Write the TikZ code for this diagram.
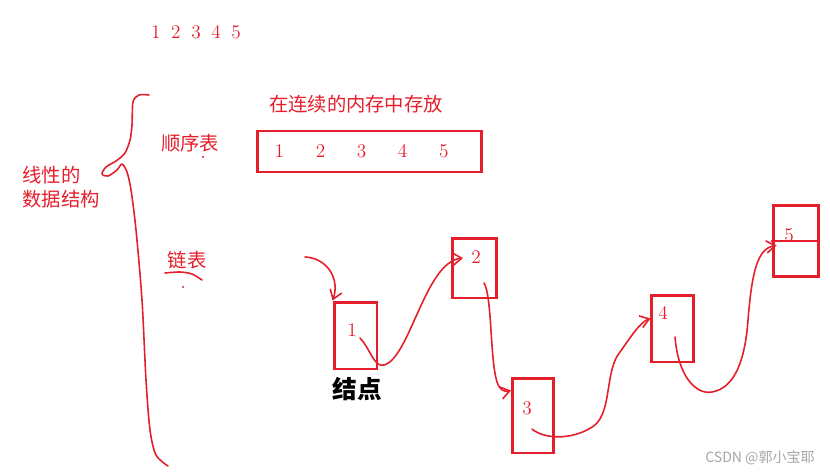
\documentclass[tikz,border=0pt]{standalone}
\usepackage{fontspec}
\newfontfamily\cjk{Noto Sans CJK SC}
\usepackage{tikz}
\usetikzlibrary{arrows.meta,positioning}
\definecolor{pen}{RGB}{228,30,42}

\begin{document}
\begin{tikzpicture}[
 x=0.02cm, y=-0.02cm,
 >={Straight Barb[length=5pt,width=7pt]},
 box/.style={rectangle, draw=pen, line width=1.7pt, inner sep=0pt},
 num/.style={text=pen, font=\fontsize{11}{13}\selectfont, inner sep=0pt},
 zh/.style={text=pen, font=\cjk\fontsize{11}{13.6}\selectfont, inner sep=0pt},
 ink/.style={draw=pen, line width=0.9pt, line cap=round, line join=round},
 lnk/.style={ink, ->},
]
\useasboundingbox (0,0) rectangle (830,473);
\node[num] (top) at (196,32) {1\hspace{6pt}2\hspace{6pt}3\hspace{6pt}4\hspace{6pt}5};
% sequential list
\node[box, minimum width=4.5cm, minimum height=0.82cm, font=\fontsize{11}{13}\selectfont, text=pen]
 (seq) at (369.5,151.5) {1\hspace{18pt}2\hspace{18pt}3\hspace{18pt}4\hspace{18pt}5\kern9pt\relax};
\node[zh] (mem) at (356,104) {在连续的内存中存放};
\node[zh] (seqname) at (190,143) {顺序表};
\fill[pen] (203,157) circle (0.6pt);
\node[zh, align=left, anchor=north west] (kind) at (22,166) {线性的\\数据结构};
\draw[ink] plot[smooth, tension=0.5] coordinates {(149,95) (139,95) (133,102) (132,125) (130,140) (125,153)
 (116,161) (106,167) (102,174) (108,176) (117,170) (122,164) (127,172) (131,190) (136,230) (142,300)
 (146,380) (150,430) (156,455) (168,466)};
% linked list
\node[zh] (linkname) at (187,260) {链表};
\draw[ink] plot[smooth] coordinates {(165,273) (180,272) (192,274) (202,280)};
\fill[pen] (183,287) circle (0.6pt);
\node[box, minimum width=0.86cm, minimum height=1.34cm] (b1) at (355.5,335.5) {};
\node[box, minimum width=0.88cm, minimum height=1.2cm] (b2) at (474,268) {};
\node[box, minimum width=0.82cm, minimum height=1.5cm] (b3) at (533,415.5) {};
\node[box, minimum width=0.84cm, minimum height=1.34cm] (b4) at (672,328.5) {};
\node[box, minimum width=0.9cm, minimum height=1.42cm] (b5) at (795.5,241) {};
\draw[ink] (b5.west) -- (b5.east);
\node[num] (n1) at (352,330) {1};
\node[num] (n2) at (476,257) {2};
\node[num] (n3) at (527,408) {3};
\node[num] (n4) at (663,313) {4};
\node[num] (n5) at (789,235) {5};
\node[font=\cjk\fontsize{14}{16}\selectfont\bfseries] (jd) at (357,389) {结点};
\coordinate (hd) at (305,257);
\draw[lnk] (hd) .. controls (328,258) and (340,280) .. (b1.north west);
\draw[lnk] ([shift={(4.5,2.5)}]b1.center) .. controls (370,348) and (374,368) .. (384,365)
 .. controls (410,358) and (425,262) .. ([shift={(-11,-10)}]b2.center);
\draw[lnk] ([shift={(10,15)}]b2.center) .. controls (492,295) and (490,360) .. (497,382)
 .. controls (500,391) and (505,392) .. ([shift={(0,14)}]b3.north west);
\draw[lnk] ([shift={(-1,13.5)}]b3.center) .. controls (545,440) and (575,440) .. (595,425)
 .. controls (612,410) and (605,370) .. (620,352) .. controls (630,338) and (640,322) .. ([shift={(1,-10)}]b4.west);
\draw[lnk] ([shift={(3,8.5)}]b4.center) .. controls (678,375) and (695,395) .. (712,392)
 .. controls (735,388) and (745,360) .. (748,320) .. controls (752,270) and (758,248) .. ([shift={(5,4.5)}]b5.west);
\node[text=black!35, font=\cjk\fontsize{8}{10}\selectfont] (wm) at (760,458) {CSDN @郭小宝耶};
\end{tikzpicture}
\end{document}
